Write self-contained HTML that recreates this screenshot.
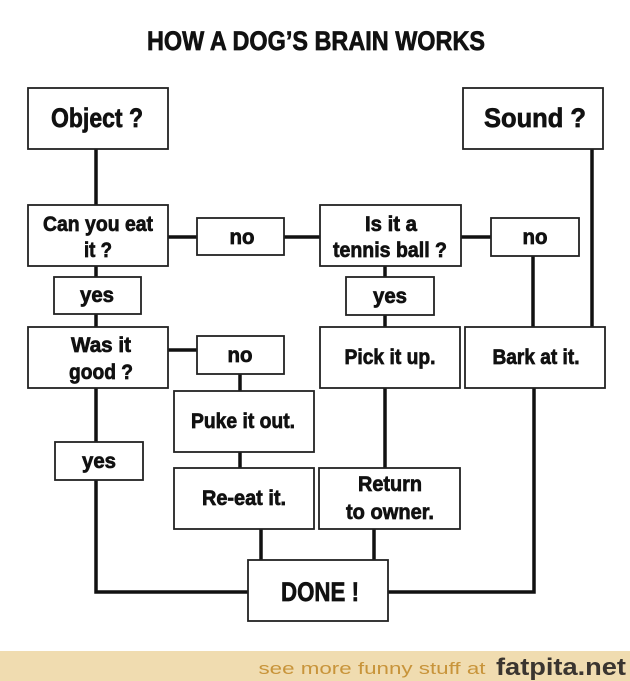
<!DOCTYPE html>
<html><head><meta charset="utf-8"><style>
html,body{margin:0;padding:0;background:#fff;width:630px;height:681px;overflow:hidden}
svg{display:block}
text{font-family:"Liberation Sans Narrow","Liberation Sans",sans-serif;font-weight:bold;fill:#111;text-anchor:middle}
.t{stroke:#111;stroke-width:0.7}
</style></head><body>
<svg width="630" height="681" viewBox="0 0 630 681" xmlns="http://www.w3.org/2000/svg">
<g stroke="#111" stroke-width="3.5" fill="none">
<path d="M96 149V205M96 266V327M96 388V592H248M168 237H197M284 237H320M461 237H491M168 350H197M240 374V391M240 452V468M261 529V560M374 529V560M96 266V277M385 266V277M385 314V327M385 388V468M533 256V327M592 149V327M534 388V592H388"/>
</g>
<g stroke="#222" stroke-width="1.8" fill="#fff">
<rect x="28" y="88" width="140" height="61"/>
<rect x="463" y="88" width="140" height="61"/>
<rect x="28" y="205" width="140" height="61"/>
<rect x="197" y="218" width="87" height="37"/>
<rect x="320" y="205" width="141" height="61"/>
<rect x="491" y="218" width="88" height="38"/>
<rect x="54" y="277" width="87" height="37"/>
<rect x="346" y="277" width="88" height="38"/>
<rect x="28" y="327" width="140" height="61"/>
<rect x="197" y="336" width="87" height="38"/>
<rect x="320" y="327" width="140" height="61"/>
<rect x="465" y="327" width="140" height="61"/>
<rect x="174" y="391" width="140" height="61"/>
<rect x="55" y="442" width="88" height="38"/>
<rect x="174" y="468" width="140" height="61"/>
<rect x="319" y="468" width="141" height="61"/>
<rect x="248" y="560" width="140" height="61"/>
</g>
<g class="t">
<text x="316" y="50" font-size="27" textLength="338" lengthAdjust="spacingAndGlyphs">HOW A DOG’S BRAIN WORKS</text>
<text x="97" y="127" font-size="27" textLength="92" lengthAdjust="spacingAndGlyphs">Object ?</text>
<text x="535" y="127" font-size="27" textLength="102" lengthAdjust="spacingAndGlyphs">Sound ?</text>
<text x="98" y="231" font-size="21" textLength="110" lengthAdjust="spacingAndGlyphs">Can you eat</text>
<text x="98" y="257" font-size="21" textLength="28" lengthAdjust="spacingAndGlyphs">it ?</text>
<text x="242" y="244" font-size="21" textLength="25" lengthAdjust="spacingAndGlyphs">no</text>
<text x="391" y="231" font-size="21" textLength="52" lengthAdjust="spacingAndGlyphs">Is it a</text>
<text x="390" y="257" font-size="21" textLength="114" lengthAdjust="spacingAndGlyphs">tennis ball ?</text>
<text x="535" y="244" font-size="21" textLength="25" lengthAdjust="spacingAndGlyphs">no</text>
<text x="97" y="302" font-size="21" textLength="34" lengthAdjust="spacingAndGlyphs">yes</text>
<text x="390" y="303" font-size="21" textLength="34" lengthAdjust="spacingAndGlyphs">yes</text>
<text x="101" y="352" font-size="21" textLength="60" lengthAdjust="spacingAndGlyphs">Was it</text>
<text x="101" y="379" font-size="21" textLength="64" lengthAdjust="spacingAndGlyphs">good ?</text>
<text x="240" y="362" font-size="21" textLength="25" lengthAdjust="spacingAndGlyphs">no</text>
<text x="390" y="364" font-size="21" textLength="91" lengthAdjust="spacingAndGlyphs">Pick it up.</text>
<text x="536" y="364" font-size="21" textLength="87" lengthAdjust="spacingAndGlyphs">Bark at it.</text>
<text x="243" y="428" font-size="21" textLength="104" lengthAdjust="spacingAndGlyphs">Puke it out.</text>
<text x="99" y="468" font-size="21" textLength="34" lengthAdjust="spacingAndGlyphs">yes</text>
<text x="244" y="505" font-size="21" textLength="84" lengthAdjust="spacingAndGlyphs">Re-eat it.</text>
<text x="390" y="491" font-size="21" textLength="64" lengthAdjust="spacingAndGlyphs">Return</text>
<text x="390" y="519" font-size="21" textLength="88" lengthAdjust="spacingAndGlyphs">to owner.</text>
<text x="320" y="601" font-size="27" textLength="78" lengthAdjust="spacingAndGlyphs">DONE !</text>
</g>
<rect x="0" y="651" width="630" height="30" fill="#f0dcb0"/>
<text x="372" y="674" font-size="17" style="font-family:'Liberation Sans',sans-serif;font-weight:normal;fill:#c8943a" textLength="227" lengthAdjust="spacingAndGlyphs">see more funny stuff at</text>
<text x="561" y="675" font-size="24" style="font-family:'Liberation Sans',sans-serif;font-weight:bold;fill:#3a3530" textLength="130" lengthAdjust="spacingAndGlyphs">fatpita.net</text>
</svg>
</body></html>
